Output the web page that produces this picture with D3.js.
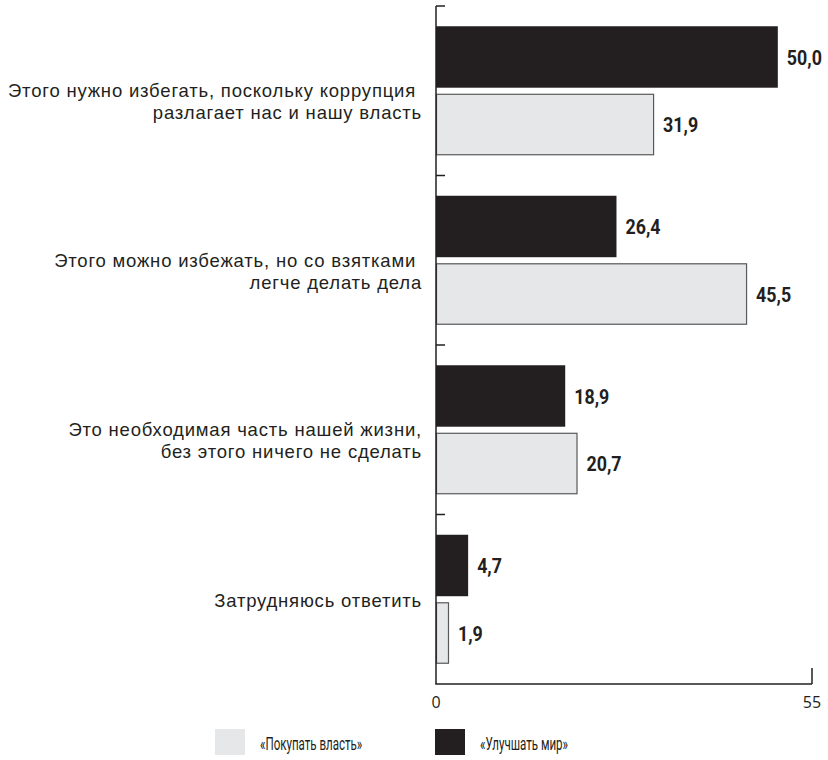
<!DOCTYPE html>
<html>
<head>
<meta charset="utf-8">
<script src="https://cdn.jsdelivr.net/npm/d3@7"></script>
<style>
  body { margin: 0; background: #fff; }
  svg { display: block; }
  .cat { font-family: "Liberation Sans", Arial, sans-serif; font-size: 18.5px; letter-spacing: 0.8px; fill: #231f20; white-space: pre; }
  .val { font-family: "Roboto", "Liberation Sans", sans-serif; font-weight: bold; font-size: 21px; fill: #231f20; }
  .tick { font-family: "Open Sans", "Noto Sans", sans-serif; font-size: 16px; fill: #231f20; }
  .leg { font-family: "Roboto", "Liberation Sans", sans-serif; font-size: 17.5px; fill: #231f20; }
</style>
</head>
<body>
<svg id="chart" width="828" height="760"></svg>
<script>
const categories = [
  ["Этого нужно избегать, поскольку коррупция ", "разлагает нас и нашу власть"],
  ["Этого можно избежать, но со взятками ", "легче делать дела"],
  ["Это необходимая часть нашей жизни,", "без этого ничего не сделать"],
  ["Затрудняюсь ответить"]
];
const seriesNames = ["«Улучшать мир»", "«Покупать власть»"];
const improveWorld = [50.0, 26.4, 18.9, 4.7];
const buyPower = [31.9, 45.5, 20.7, 1.9];
const xTicks = [0, 55];

const colors = { "«Улучшать мир»": "#231f20", "«Покупать власть»": "#e6e7e8" };
const valuesBySeries = { "«Улучшать мир»": improveWorld, "«Покупать власть»": buyPower };

const svg = d3.select("#chart");
const x0 = 436, x1 = 812, yTop = 6, yBot = 684;

const x = d3.scaleLinear().domain([0, 55]).range([x0, x1]);
const y = d3.scaleBand().domain(d3.range(categories.length)).range([yTop, yBot]).padding(0);
const yi = d3.scaleBand().domain(seriesNames).range([0, y.bandwidth()]).paddingInner(0.09).paddingOuter(0.3);

const fmt = v => d3.format(".1f")(v).replace(".", ",");

// bars
categories.forEach((c, i) => {
  const g = svg.append("g").attr("transform", `translate(0,${y(i)})`);
  seriesNames.forEach(s => {
    const v = valuesBySeries[s][i];
    const isLight = s === "«Покупать власть»";
    g.append("rect")
      .attr("x", x(0) + (isLight ? 0.5 : 0))
      .attr("y", yi(s) + (isLight ? 0.5 : 0))
      .attr("width", x(v) - x(0) - (isLight ? 1 : 0))
      .attr("height", yi.bandwidth() - (isLight ? 1 : 0))
      .attr("fill", colors[s])
      .attr("stroke", isLight ? "#58595b" : "none")
      .attr("stroke-width", isLight ? 1.2 : 0);
    g.append("text")
      .attr("class", "val")
      .attr("transform", `translate(${x(v) + 9},${yi(s) + yi.bandwidth() / 2}) scale(0.85,1)`)
      .attr("dy", "0.36em")
      .text(fmt(v));
  });
  // category label, one text per line
  const cy = y(i) + y.bandwidth() / 2;
  const off = c.length === 1 ? 8 : 6.5;
  c.forEach((line, j) => {
    svg.append("text").attr("class", "cat").attr("text-anchor", "end")
      .attr("x", 422).attr("y", cy + off + j * 22).text(line);
  });
});

// left axis with inward ticks at band boundaries
const yAxisTicks = d3.range(categories.length).map(i => y(i));
svg.append("line").attr("x1", x0).attr("x2", x0).attr("y1", yTop).attr("y2", yBot)
  .attr("stroke", "#231f20").attr("stroke-width", 1.5);
yAxisTicks.forEach(ty => {
  svg.append("line").attr("x1", x0).attr("x2", x0 + 9).attr("y1", ty).attr("y2", ty)
    .attr("stroke", "#231f20").attr("stroke-width", 1.5);
});

// bottom axis
svg.append("line").attr("x1", x0 - 0.75).attr("x2", x1).attr("y1", yBot).attr("y2", yBot)
  .attr("stroke", "#231f20").attr("stroke-width", 1.5);
svg.append("line").attr("x1", x(55)).attr("x2", x(55)).attr("y1", yBot - 16).attr("y2", yBot)
  .attr("stroke", "#231f20").attr("stroke-width", 1.5);
xTicks.forEach(tv => {
  svg.append("text").attr("class", "tick").attr("x", x(tv)).attr("y", 708)
    .attr("text-anchor", "middle").text(tv);
});

// legend
const legendItems = [
  { name: "«Покупать власть»", sx: 215 },
  { name: "«Улучшать мир»", sx: 435 }
];
legendItems.forEach(d => {
  svg.append("rect").attr("x", d.sx).attr("y", 729).attr("width", 30).attr("height", 26)
    .attr("fill", colors[d.name]);
  svg.append("text").attr("class", "leg")
    .attr("transform", `translate(${d.sx + 45},750) scale(0.66,1)`)
    .text(d.name);
});
</script>
</body>
</html>
